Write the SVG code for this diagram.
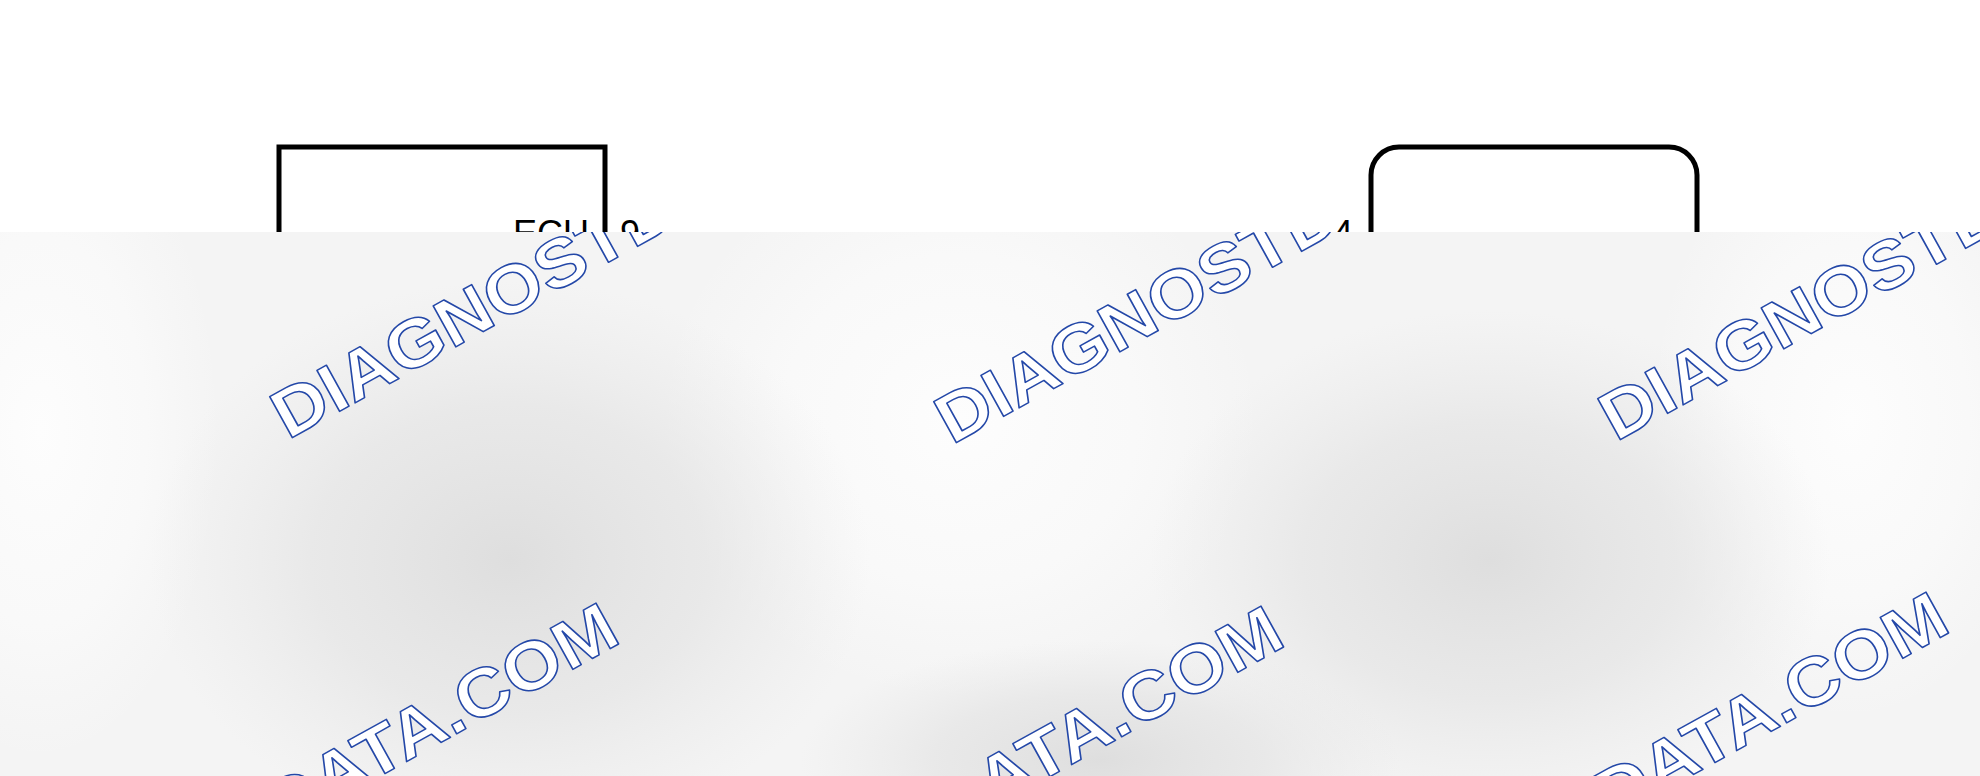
<svg xmlns="http://www.w3.org/2000/svg" width="1980" height="776" viewBox="0 0 1980 776">
  <style>
    .box { fill: #ffffff; stroke: #000000; stroke-width: 5; }
    .lbl { font-family: "Liberation Sans", Arial, sans-serif; font-size: 36px; fill: #000000; }
    .wm { font-family: "Liberation Sans", Arial, sans-serif; font-weight: bold; font-size: 68px; fill: #ffffff; stroke: #2448a8; stroke-width: 1.5; stroke-linejoin: round; }
  </style>
  <defs>
    <clipPath id="ov">
      <rect x="0" y="232" width="1980" height="544"/>
    </clipPath>
    <radialGradient id="dark">
      <stop offset="0" stop-color="#dedede" stop-opacity="1"/>
      <stop offset="0.55" stop-color="#e4e4e4" stop-opacity="0.7"/>
      <stop offset="1" stop-color="#e8e8e8" stop-opacity="0"/>
    </radialGradient>
    <radialGradient id="light">
      <stop offset="0" stop-color="#fdfdfd" stop-opacity="1"/>
      <stop offset="0.6" stop-color="#fbfbfb" stop-opacity="0.7"/>
      <stop offset="1" stop-color="#fafafa" stop-opacity="0"/>
    </radialGradient>
  </defs>
  <rect x="0" y="0" width="1980" height="776" fill="#ffffff"/>

  <g id="ecu">
    <rect class="box" x="279" y="147" width="326" height="300"/>
    <text class="lbl" x="513" y="246">ECU</text>
    <text class="lbl" x="620" y="246">9</text>
  </g>

  <g id="component">
    <rect class="box" x="1371" y="147" width="326" height="300" rx="28" ry="28"/>
    <text class="lbl" x="1333" y="246">4</text>
  </g>

  <g id="connectors"></g>

  <g id="overlay" clip-path="url(#ov)">
    <rect x="0" y="232" width="1980" height="544" fill="#f4f4f4"/>
    <ellipse cx="40" cy="430" rx="180" ry="330" fill="url(#light)"/>
    <ellipse cx="960" cy="420" rx="300" ry="280" fill="url(#light)"/>
    <ellipse cx="1850" cy="420" rx="200" ry="300" fill="url(#light)"/>
    <ellipse cx="510" cy="560" rx="360" ry="280" fill="url(#dark)"/>
    <ellipse cx="1490" cy="560" rx="340" ry="250" fill="url(#dark)"/>
    <ellipse cx="1100" cy="760" rx="300" ry="120" fill="url(#dark)"/>
  </g>

  <g id="watermark" clip-path="url(#ov)">
    <text class="wm" transform="translate(288,440) rotate(-29) scale(1.1,1)">DIAGNOSTDATA.COM</text>
    <text class="wm" transform="translate(952,445) rotate(-29) scale(1.1,1)">DIAGNOSTDATA.COM</text>
    <text class="wm" transform="translate(1616,442) rotate(-29) scale(1.1,1)">DIAGNOSTDATA.COM</text>
    <text class="wm" transform="translate(-65,1023) rotate(-29) scale(1.1,1)">DIAGNOSTDATA.COM</text>
    <text class="wm" transform="translate(600,1026) rotate(-29) scale(1.1,1)">DIAGNOSTDATA.COM</text>
    <text class="wm" transform="translate(1265,1012) rotate(-29) scale(1.1,1)">DIAGNOSTDATA.COM</text>
  </g>
</svg>
